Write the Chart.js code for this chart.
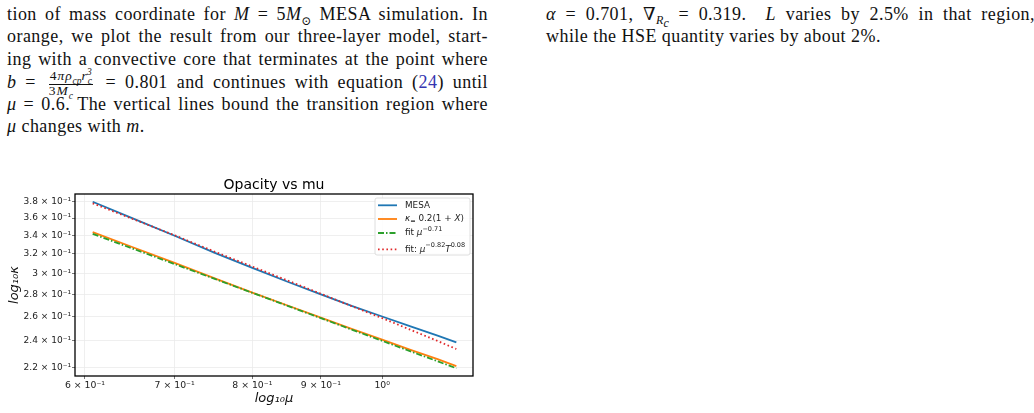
<!DOCTYPE html>
<html>
<head>
<meta charset="utf-8">
<script src="https://cdn.jsdelivr.net/npm/chart.js@4.4.1/dist/chart.umd.min.js"></script>
<style>
  html, body { margin: 0; padding: 0; background: #fff; }
  body { width: 1034px; height: 413px; position: relative; overflow: hidden; }
  .col { position: absolute; top: 2.5px; font-family: "Liberation Serif", "DejaVu Serif", serif; font-size: 18px; letter-spacing: 0.45px; color: #111; }
  .ln { height: 22.6px; line-height: 22.6px; white-space: nowrap; text-align: justify; text-align-last: justify; }
  .ln.last { text-align-last: left; }
  sub, sup { font-size: 12px; line-height: 0; letter-spacing: 0; }
  .frac { display: inline-block; vertical-align: -7px; text-align: center; font-size: 13.5px; line-height: 12.5px; font-style: italic; margin: 0 4px; letter-spacing: 0.9px; }
  .frac > span { display: block; }
  .frac .num { border-bottom: 0.8px solid #111; padding: 0 1px 1px; }
  .frac sub, .frac sup { font-size: 9.5px; }
  .frac .up { font-style: normal; }
  .ref { color: #3535b0; }
  #chartBox { position: absolute; left: 0; top: 140px; width: 500px; height: 273px; }
</style>
</head>
<body>
<div class="col" style="left:7px;width:481px">
  <div class="ln">tion of mass coordinate for <i>M</i> = 5<i>M</i><sub>⊙</sub> MESA simulation. In</div>
  <div class="ln">orange, we plot the result from our three-layer model, start-</div>
  <div class="ln">ing with a convective core that terminates at the point where</div>
  <div class="ln"><i>b</i> = <span class="frac"><span class="num"><span class="up">4</span>πρ<sub>cp</sub>r<sub>c</sub><sup style="margin-left:-5px">3</sup></span><span><span class="up">3</span>M<sub>c</sub></span></span> = 0.801 and continues with equation (<span class="ref">24</span>) until</div>
  <div class="ln"><i>μ</i> = 0.6. The vertical lines bound the transition region where</div>
  <div class="ln last"><i>μ</i> changes with <i>m</i>.</div>
</div>
<div class="col" style="left:546px;width:489px">
  <div class="ln"><i>α</i> = 0.701, ∇<sub><i>R<sub>c</sub></i></sub> = 0.319. &nbsp;<i>L</i> varies by 2.5% in that region,</div>
  <div class="ln last">while the HSE quantity varies by about 2%.</div>
</div>
<div id="chartBox"><canvas id="chart" width="500" height="273"></canvas></div>

<script>
'use strict';

// ── Data ─────────────────────────────────────────────
const mu = [0.608, 0.65, 0.70, 0.75, 0.80, 0.85, 0.90, 0.95, 1.00, 1.05, 1.10, 1.136];
const kappaMesa  = [0.380, 0.3603, 0.3396, 0.3210, 0.3054, 0.2918, 0.2799, 0.2693, 0.2602, 0.2519, 0.2442, 0.2389];
const kappaModel = [0.3437, 0.3275, 0.3105, 0.2950, 0.2815, 0.2698, 0.2592, 0.2496, 0.2410, 0.2331, 0.2260, 0.2209];
const kappaFitMu = [0.3418, 0.3260, 0.3093, 0.2945, 0.2813, 0.2695, 0.2588, 0.2490, 0.2401, 0.2319, 0.2244, 0.2193];
const kappaFitMuT = [0.378, 0.3595, 0.3402, 0.3222, 0.3068, 0.2930, 0.2805, 0.2690, 0.2588, 0.2490, 0.2400, 0.2337];

const xTicks = [0.6, 0.7, 0.8, 0.9, 1.0];
const xTickLabels = ['6 × 10⁻¹', '7 × 10⁻¹', '8 × 10⁻¹', '9 × 10⁻¹', '10⁰'];
const yTicks = [0.22, 0.24, 0.26, 0.28, 0.30, 0.32, 0.34, 0.36, 0.38];
const yTickLabels = ['2.2 × 10⁻¹', '2.4 × 10⁻¹', '2.6 × 10⁻¹', '2.8 × 10⁻¹', '3 × 10⁻¹',
                     '3.2 × 10⁻¹', '3.4 × 10⁻¹', '3.6 × 10⁻¹', '3.8 × 10⁻¹'];

const chartTitle = 'Opacity vs mu';
// legend labels as [text, style] pieces: i = italic, sup / sub = raised / lowered
const legendLabels = [
    [['MESA']],
    [['κ', 'i'], ['=', 'sub'], [' 0.2(1 + '], ['X', 'i'], [')']],
    [['fit '], ['μ', 'i'], ['−0.71', 'sup']],
    [['fit: '], ['μ', 'i'], ['−0.82', 'sup'], ['T', 'i'], ['0.08', 'sup']],
];

const FONT = "'DejaVu Sans', sans-serif";

function pts(ys) { return mu.map((m, i) => ({ x: m, y: ys[i] })); }

// ── Rich text helper (for super/subscripts) ──────────
function drawRich(ctx, parts, x, y, size) {
    parts.forEach(([t, st]) => {
        const small = st === 'sup' || st === 'sub';
        const fs = small ? size * 0.74 : size;
        ctx.font = (st === 'i' ? 'italic ' : '') + fs + 'px ' + FONT;
        const dy = st === 'sup' ? -size * 0.42 : st === 'sub' ? size * 0.3 : 0;
        ctx.fillText(t, x, y + dy);
        x += ctx.measureText(t).width;
    });
}

// ── Plugins: frame + title, legend inside axes ───────
const framePlugin = {
    id: 'frame',
    afterDraw(chart) {
        const { ctx, chartArea: a } = chart;
        ctx.save();
        ctx.strokeStyle = '#000';
        ctx.lineWidth = 1.3;
        ctx.strokeRect(a.left, a.top, a.right - a.left, a.bottom - a.top);
        ctx.fillStyle = '#000';
        ctx.font = '14px ' + FONT;
        ctx.textAlign = 'center';
        ctx.textBaseline = 'middle';
        ctx.fillText(chartTitle, (a.left + a.right) / 2, a.top - 9);
        ctx.restore();
    }
};

const legendPlugin = {
    id: 'innerLegend',
    afterDatasetsDraw(chart) {
        const { ctx, chartArea: a } = chart;
        const w = 95, h = 57;
        const x0 = a.right - 3 - w, y0 = a.top + 4;
        const rowY = [7.3, 21, 35, 51.3];
        ctx.save();
        ctx.beginPath();
        ctx.roundRect(x0, y0, w, h, 2);
        ctx.fillStyle = 'rgba(255,255,255,0.85)';
        ctx.fill();
        ctx.strokeStyle = '#d6d6d6';
        ctx.lineWidth = 0.8;
        ctx.stroke();
        chart.data.datasets.forEach((ds, i) => {
            const y = y0 + rowY[i];
            ctx.beginPath();
            ctx.setLineDash(ds.borderDash || []);
            ctx.strokeStyle = ds.borderColor;
            ctx.lineWidth = ds.borderWidth;
            ctx.moveTo(x0 + 3, y);
            ctx.lineTo(x0 + 22, y);
            ctx.stroke();
            ctx.setLineDash([]);
            ctx.fillStyle = '#222';
            ctx.textBaseline = 'middle';
            drawRich(ctx, legendLabels[i], x0 + 30, y, 8.8);
        });
        ctx.restore();
    }
};

const ctx = document.getElementById('chart').getContext('2d');
new Chart(ctx, {
    type: 'line',
    data: {
        datasets: [
            { label: 'MESA', data: pts(kappaMesa), borderColor: '#1f77b4', borderWidth: 1.8, order: 4 },
            { label: 'model', data: pts(kappaModel), borderColor: '#ff7f0e', borderWidth: 1.8, order: 3 },
            { label: 'fit mu', data: pts(kappaFitMu), borderColor: '#2ca02c', borderWidth: 1.8, borderDash: [6, 2, 1.5, 2], order: 2 },
            { label: 'fit mu T', data: pts(kappaFitMuT), borderColor: '#e0282a', borderWidth: 1.8, borderDash: [1.6, 2.6], order: 1 },
        ],
    },
    options: {
        responsive: false,
        animation: false,
        events: [],
        layout: { padding: { top: 54, right: 27, left: 0, bottom: 0 } },
        elements: { point: { radius: 0 }, line: { tension: 0, fill: false } },
        plugins: { legend: { display: false }, tooltip: { enabled: false }, title: { display: false } },
        scales: {
            x: {
                type: 'logarithmic',
                min: 0.5898, max: 1.169, bounds: 'data',
                afterBuildTicks: s => { s.ticks = xTicks.map(v => ({ value: v })); },
                afterFit: s => { s.height = 37; },
                grid: { color: '#ebebeb', lineWidth: 0.8, tickLength: 3, tickColor: '#555' },
                border: { display: false },
                ticks: {
                    autoSkip: false, maxRotation: 0, padding: 1, color: '#222',
                    font: { family: FONT, size: 9.3 },
                    callback: (v, i) => xTickLabels[i],
                },
                title: {
                    display: true, text: 'log₁₀μ', color: '#111',
                    font: { family: FONT, size: 13, style: 'italic' },
                    padding: { top: 0, bottom: 7 },
                },
            },
            y: {
                type: 'logarithmic',
                min: 0.2138, max: 0.3898, bounds: 'data',
                afterBuildTicks: s => { s.ticks = yTicks.map(v => ({ value: v })); },
                afterFit: s => { s.width = 75; },
                grid: { color: '#ebebeb', lineWidth: 0.8, tickLength: 3, tickColor: '#555' },
                border: { display: false },
                ticks: {
                    autoSkip: false, padding: 1, color: '#222',
                    font: { family: FONT, size: 9 },
                    callback: (v, i) => yTickLabels[i],
                },
                title: {
                    display: true, text: 'log₁₀κ', color: '#111',
                    font: { family: FONT, size: 13, style: 'italic' },
                    padding: { top: 7, bottom: 0 },
                },
            },
        },
    },
    plugins: [framePlugin, legendPlugin],
});
</script>
</body>
</html>
